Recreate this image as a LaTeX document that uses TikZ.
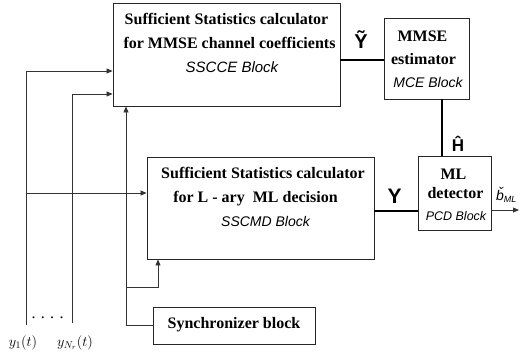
\documentclass[tikz,border=0pt]{standalone}
\usepackage{amsmath}
\usepackage{fontspec}
\setmainfont{Liberation Serif}
\setsansfont{Liberation Sans}
\usetikzlibrary{arrows.meta}

\tikzset{
  blockbox/.style={draw=black!85, line width=0.9pt, inner sep=0pt},
  conn/.style={draw=black!80, line width=0.8pt},
  arr/.style={conn, -{Triangle[length=6pt,width=5pt]}},
  bus/.style={draw=black, line width=2.6pt},
  bt/.style={font=\fontsize{16}{19}\selectfont\bfseries, anchor=base, inner sep=0pt},
  it/.style={font=\fontsize{#1}{18}\selectfont\sffamily\itshape, anchor=base, inner sep=0pt},
  it/.default=15,
  sig/.style={font=\fontsize{#1}{22}\selectfont\sffamily\bfseries, anchor=base, inner sep=0pt},
  inlab/.style={font=\fontsize{14}{16}\selectfont, anchor=base, inner sep=0pt}
}

\begin{document}
\begin{tikzpicture}[x=1pt, y=-1pt]
\useasboundingbox (0,0) rectangle (524,360);

% blocks
\node[blockbox, minimum width=227pt, minimum height=103pt] (sscce) at (226.5,54.5) {};
\node[blockbox, minimum width=85pt,  minimum height=81pt]  (mmse)  at (426.5,58.5) {};
\node[blockbox, minimum width=227pt, minimum height=102pt] (sscmd) at (260.5,208) {};
\node[blockbox, minimum width=73pt,  minimum height=74pt]  (ml)    at (454.5,193) {};
\node[blockbox, minimum width=162pt, minimum height=37pt]  (sync)  at (234,325.5) {};

% block texts
\node[bt] (t1a) at (226.5,24) {Sufficient Statistics calculator};
\node[bt] (t1b) at (229.5,48) {for MMSE channel coefficients};
\node[it] (t1c) at (232,72) {SSCCE Block};

\node[bt] (t2a) at (422.5,41) {MMSE};
\node[bt] (t2b) at (423.5,64) {estimator};
\node[it=14] (t2c) at (428,87) {MCE Block};

\node[bt] (t3a) at (263,178) {Sufficient Statistics calculator};
\node[bt] (t3b) at (255.5,202) {for L - ary\ \ ML decision};
\node[it=14] (t3c) at (265.5,226) {SSCMD Block};

\node[bt] (t4a) at (453.5,179) {ML};
\node[bt] (t4b) at (455.5,198) {detector};
\node[it=12.5] (t4c) at (456,220.5) {PCD Block};

\node[bt] (t5) at (234,328.5) {Synchronizer block};

% antenna inputs
\coordinate (y1) at (26,325);
\coordinate (yN) at (72,323);
\coordinate (tap) at (126,287);
\coordinate (out) at (519,210);

\draw[arr] (y1) |- (sscce.west |- 0,71);
\draw[arr] (yN) |- (sscce.west |- 0,94);
\draw[arr] (y1 |- 0,193) -- (sscmd.west |- 0,193);

% synchronizer feeds both calculators
\draw[arr] (sync.west) -| (sscce.south -| 126,0);
\draw[arr] (tap) -| (sscmd.south -| 158,0);

% statistics buses
\draw[bus] (sscce.east |- 0,60) -- (mmse.west |- 0,60);
\draw[bus] (mmse.south -| 442,0) -- (ml.north -| 442,0);
\draw[bus] (sscmd.east |- 0,211) -- (ml.west |- 0,211);
\draw[arr] (ml.east |- out) -- (out);

% signal labels
\node[sig=20] (lY1) at (361,48.3) {Ỹ};
\node[sig=17] (lH)  at (458,151.7) {Ĥ};
\node[sig=21] (lY2) at (394.5,203.3) {Y};
\node[font=\fontsize{14}{16}\selectfont\sffamily\itshape, anchor=base west, inner sep=0pt] (lb) at (496,200) {b̌\textsubscript{\fontsize{9}{10}\selectfont ML}};

\node[inlab] (ly1) at (23,346) {$y_1(t)$};
\node[inlab] (lyN) at (75,346) {$y_{N_r}(t)$};
\node[font=\fontsize{16}{18}\selectfont, anchor=base, inner sep=0pt] (dots) at (47.5,318) {. . . .};
\end{tikzpicture}
\end{document}
